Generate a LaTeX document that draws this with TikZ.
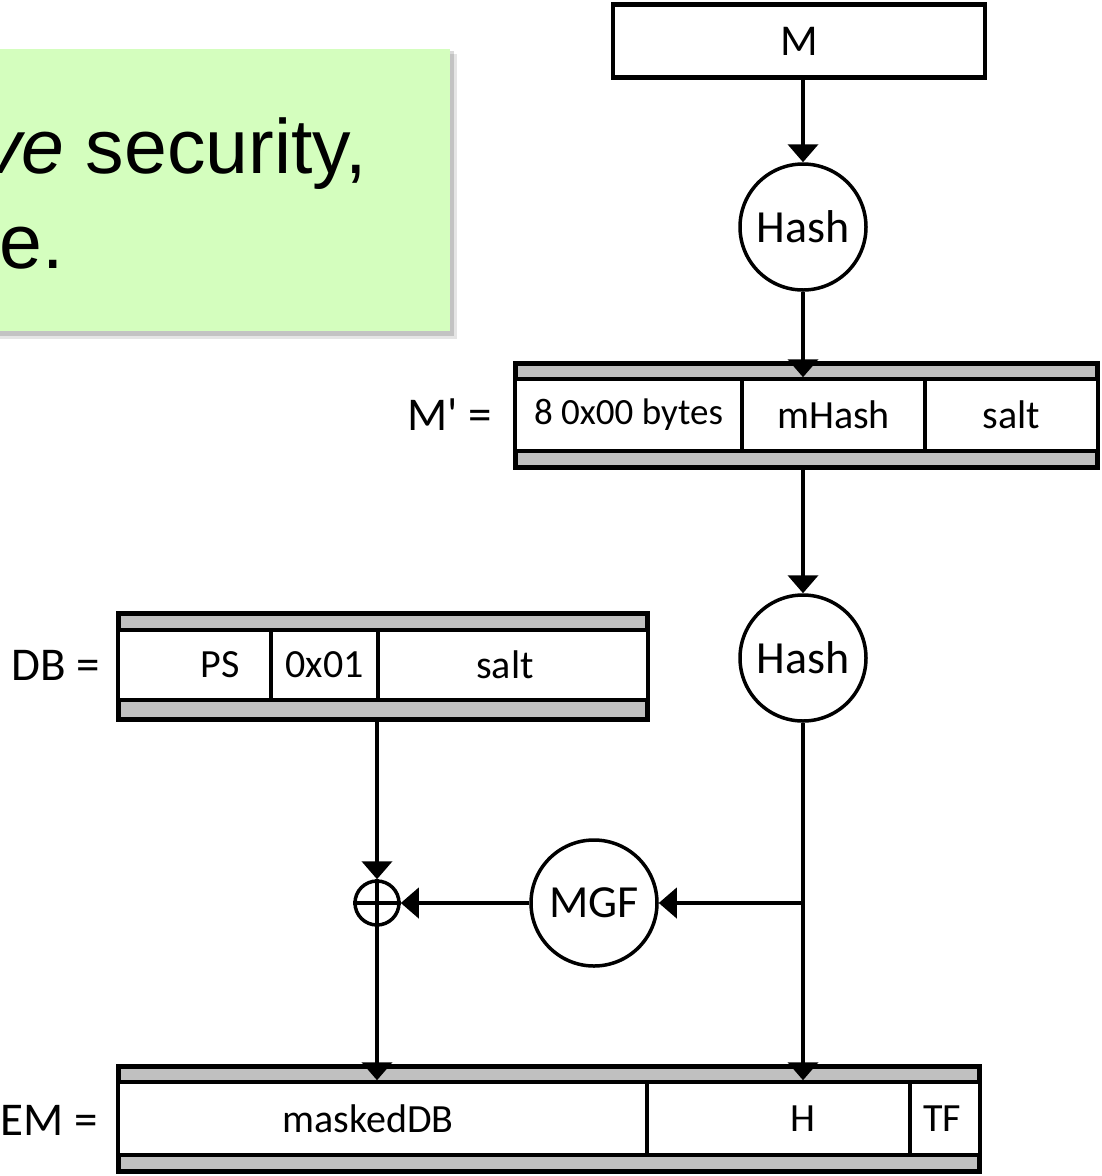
\documentclass[tikz,border=0pt]{standalone}
\usepackage{fontspec}
\setmainfont{Carlito}
\newfontfamily\notefont{Liberation Sans}
\usetikzlibrary{arrows.meta}
\definecolor{notegreen}{RGB}{212,254,190}
\definecolor{strip}{RGB}{192,192,192}
\begin{document}
\begin{tikzpicture}[x=1pt,y=-1pt,
  arr/.style={line width=4pt,-{Triangle[width=30pt,length=18pt]}},
  bar/.style={draw,line width=5pt,fill=strip,inner sep=0pt},
  cell/.style={draw,line width=3.5pt,fill=white,inner sep=0pt,font=\fontsize{40}{48}\selectfont},
  op/.style={circle,draw,line width=3.5pt,fill=white,minimum size=126pt,inner sep=0pt,font=\fontsize{46}{55}\selectfont},
  lab/.style={anchor=east,inner sep=0pt,font=\fontsize{47}{56}\selectfont},
  note/.style={anchor=base west,inner sep=0pt,font=\notefont\fontsize{77}{92}\selectfont}
]
\useasboundingbox (0,0) rectangle (1102,1176);
% note box
\fill[black,opacity=0.10] (-10,54) rectangle (457,339);
\fill[black,opacity=0.15] (-10,51) rectangle (454,336);
\fill[notegreen] (-10,49) rectangle (450,331);
\node[note] (n1) at (-17,173) {\textit{ve} security,};
\node[note] (n2) at (-1,268) {e.};
% M box
\node[draw,line width=4.5pt,minimum width=372pt,minimum height=73pt,inner sep=0pt,font=\fontsize{44}{52}\selectfont] (m) at (799,41) {M};
\node[op] (h1) at (803,227) {Hash};
% M' bar
\node[bar,minimum width=582pt,minimum height=104pt] (mp) at (806,415) {};
\node[cell,minimum width=227pt,minimum height=72pt] (c1) at (628.5,415) {\fontsize{37}{44}\selectfont 8 0x00 bytes};
\node[cell,minimum width=183pt,minimum height=72pt] (c2) at (833.5,415) {mHash};
\node[cell,minimum width=173pt,minimum height=72pt] (c3) at (1011.5,415) {salt};
\node[lab] (lmp) at (492,415) {M\textquotesingle\ =};
\node[op] (h2) at (803,658) {Hash};
% DB bar
\node[bar,minimum width=529pt,minimum height=106pt] (db) at (383,666) {};
\node[cell,minimum width=153pt,minimum height=70pt] (ps) at (194.5,665) {\hspace*{51pt}PS};
\node[cell,minimum width=107pt,minimum height=70pt] (one) at (324.5,665) {0x01};
\node[cell,minimum width=270pt,minimum height=70pt] (sa) at (513,665) {salt\hspace*{16pt}};
\node[lab] (ldb) at (100,665) {DB =};
% XOR and MGF
\node[circle,draw,line width=3.5pt,fill=white,minimum size=44pt,inner sep=0pt] (xor) at (377,903) {};
\draw[line width=3.5pt] (xor.west) -- (xor.east);
\draw[line width=3.5pt] (xor.north) -- (xor.south);
\node[op] (mgf) at (594,903) {MGF};
\coordinate (br) at (h2 |- mgf);
% EM bar
\node[bar,minimum width=861pt,minimum height=105pt] (em) at (549,1118.5) {};
\node[cell,minimum width=529pt,minimum height=73pt] (md) at (382.5,1118.5) {maskedDB\hspace*{29pt}};
\node[cell,minimum width=263pt,minimum height=73pt] (hc) at (778.5,1118.5) {\hspace*{49pt}H};
\node[cell,minimum width=70pt,minimum height=73pt] (tf) at (945,1118.5) {TF\hspace*{6pt}};
\node[lab] (lem) at (98,1120) {EM =};
% connectors
\draw[arr] (m.south -| h1) -- (h1.north);
\draw[arr] (h1.south) -- (h1 |- c2.north);
\draw[arr] (mp.south -| h2) -- (h2.north);
\draw[arr] (h2.south) -- (h2 |- hc.north);
\draw[arr] (br) -- (mgf.east);
\draw[arr] (mgf.west) -- (xor.east);
\draw[arr] (db.south -| xor) -- (xor.north);
\draw[arr] (xor.south) -- (xor |- md.north);
\end{tikzpicture}
\end{document}
